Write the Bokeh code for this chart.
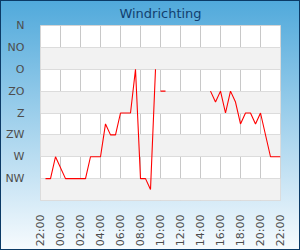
from datetime import datetime, timedelta
import math
from bokeh.plotting import figure
from bokeh.models import Range1d, FixedTicker, DatetimeTickFormatter, ColumnDataSource
from bokeh.embed import file_html
from bokeh.resources import INLINE

# ---- data ----
times = ["22:30", "23:00", "23:30", "00:30", "02:30", "03:00", "04:00", "04:30",
         "05:00", "05:30", "06:00", "07:00", "07:30", "08:00", "08:30", "09:00",
         "09:30", "09:45", "10:00", "10:30", "12:45", "15:00", "15:30", "16:00",
         "16:30", "17:00", "17:30", "18:00", "18:30", "19:00", "19:30", "20:00",
         "21:00", "22:00"]
direction = [315, 315, 270, 315, 315, 270, 270, 202.5,
             225, 225, 180, 180, 90, 315, 315, 337.5,
             90, None, 135, 135, None, 135, 157.5, 135,
             180, 135, 157.5, 202.5, 180, 180, 202.5, 180,
             270, 270]
dir_ticks = [0, 45, 90, 135, 180, 225, 270, 315, 360]
dir_labels = ["N", "NO", "O", "ZO", "Z", "ZW", "W", "NW", ""]
x_tick_hours = list(range(0, 25, 2))  # every 2 h from 22:00
title_text = "Windrichting"

start = datetime(2024, 1, 1, 22, 0)
xs = []
day = 0
prev = None
for t in times:
    h, m = map(int, t.split(":"))
    mins = h * 60 + m
    if prev is not None and mins <= prev:
        day += 1
    prev = mins
    xs.append(datetime(2024, 1, 1, h, m) + timedelta(days=day))
ys = [float("nan") if v is None else v for v in direction]

src = ColumnDataSource(dict(x=xs, y=ys))

p = figure(width=300, height=250, output_backend="svg", toolbar_location=None,
           x_axis_type="datetime",
           x_range=Range1d(start, start + timedelta(hours=24)),
           y_range=Range1d(360, 0),
           min_border_left=40, min_border_right=20, min_border_top=25, min_border_bottom=50)

p.title.text = title_text
p.title.text_font = "DejaVu Sans"
p.title.text_font_size = "13px"
p.title.text_font_style = "normal"
p.title.text_color = "#123f6f"
p.title.align = "center"
p.title.vertical_align = "top"
p.title.offset = -10
p.title.standoff = 5

p.background_fill_color = "white"
p.border_fill_alpha = 0
p.outline_line_color = "#d4d4d4"
p.styles = {"background": "linear-gradient(to bottom, #50a9db, #f7fbfe)",
            "box-shadow": "inset 0 0 0 1px #0b3a66"}

p.line("x", "y", source=src, line_color="#ff0000", line_width=1.1)

# x axis
epoch = datetime(1970, 1, 1)
xt = [((start + timedelta(hours=h)) - epoch).total_seconds() * 1000 for h in x_tick_hours]
p.xaxis.ticker = FixedTicker(ticks=xt)
fmt = "%H:%M"
p.xaxis.formatter = DatetimeTickFormatter(hours=fmt, days=fmt, hourmin=fmt, minutes=fmt,
                                          minsec=fmt, months=fmt, years=fmt)
p.xaxis.major_label_orientation = math.pi / 2
p.xaxis.major_label_standoff = 8
p.xaxis.axis_line_color = None
p.xaxis.major_tick_line_color = None
p.xaxis.minor_tick_line_color = None
p.xaxis.major_label_text_font = "DejaVu Sans"
p.xaxis.major_label_text_font_size = "11px"
p.xaxis.major_label_text_color = "#4d4d4d"

# y axis
p.yaxis.ticker = FixedTicker(ticks=dir_ticks)
p.yaxis.major_label_overrides = {t: l for t, l in zip(dir_ticks, dir_labels)}
p.yaxis.major_label_standoff = 10
p.yaxis.axis_line_color = None
p.yaxis.major_tick_line_color = None
p.yaxis.minor_tick_line_color = None
p.yaxis.major_label_text_font = "DejaVu Sans"
p.yaxis.major_label_text_font_size = "11px"
p.yaxis.major_label_text_color = "#4d4d4d"

p.xgrid.grid_line_color = "#c8c8c8"
p.ygrid.grid_line_color = "#dcdcdc"
p.ygrid.band_fill_color = "#f2f2f2"
p.ygrid.band_fill_alpha = 1

open("out.html", "w").write(file_html(p, INLINE))
